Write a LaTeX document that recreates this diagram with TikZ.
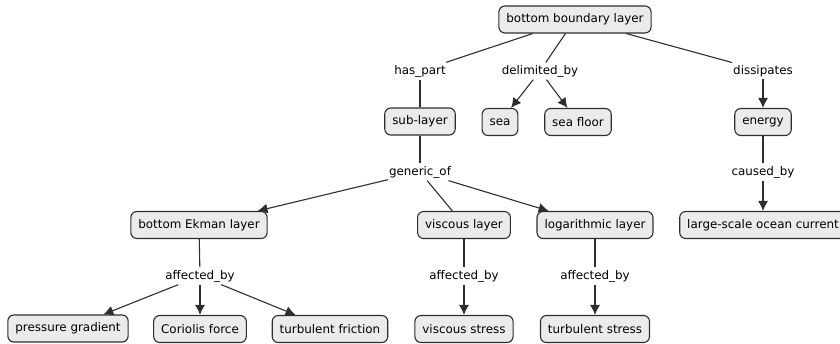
\documentclass[tikz,border=0pt]{standalone}
\usepackage{fontspec}
\setmainfont{DejaVu Sans}
\usepackage{tikz}
\usetikzlibrary{arrows.meta}
\usetikzlibrary{shapes,positioning,calc}
\definecolor{conceptfill}{HTML}{EBEBEB}
\definecolor{conceptline}{HTML}{2E2E2E}

\begin{document}
\begin{tikzpicture}[x=1pt, y=-1pt, >={Latex[length=10pt,width=10pt]},
		every node/.style={font=\fontsize{11.9}{14}\selectfont},
		concept/.style={draw=conceptline, fill=conceptfill, line width=1.1pt, rectangle, rounded corners=6, minimum height=27, inner xsep=7.5},
		linklabel/.style={fill=white, inner xsep=1, inner ysep=2.5},
		link/.style={line width=1.1pt, draw=conceptline}]
		\useasboundingbox (0,0) rectangle (840,343);
		\node[concept] (bbl) at (575,19.5) {bottom boundary layer};
		\node[linklabel] (haspart) at (420,71) {has\_part};
		\node[linklabel] (delim) at (540,71) {delimited\_by};
		\node[linklabel] (dissip) at (763,71) {dissipates};
		\node[concept] (sublayer) at (420,121.5) {sub-layer};
		\node[concept] (sea) at (500,122) {sea};
		\node[concept] (seafloor) at (578,122) {sea floor};
		\node[concept] (energy) at (763,122) {energy};
		\node[linklabel] (generic) at (420,172) {generic\_of};
		\node[linklabel] (caused) at (763,172) {caused\_by};
		\node[concept] (ekman) at (199,225) {bottom Ekman layer};
		\node[concept] (viscous) at (464,225) {viscous layer};
		\node[concept] (loglayer) at (595,225) {logarithmic layer};
		\node[concept] (current) at (763,225) {large-scale ocean current};
		\node[linklabel] (affekman) at (200,276) {affected\_by};
		\node[linklabel] (affvisc) at (464,276) {affected\_by};
		\node[linklabel] (afflog) at (595,276) {affected\_by};
		\node[concept] (pressure) at (68,328.5) {pressure gradient};
		\node[concept] (coriolis) at (200,329) {Coriolis force};
		\node[concept] (friction) at (330,329) {turbulent friction};
		\node[concept] (vstress) at (464,329) {viscous stress};
		\node[concept] (tstress) at (595,329) {turbulent stress};

		\draw[link] (bbl) -- (haspart);
		\draw[link] (bbl) -- (delim);
		\draw[link] (bbl) -- (dissip);
		\draw[link] (haspart) -- (sublayer);
		\draw[link,->] (delim) -- (sea);
		\draw[link,->] (delim) -- (seafloor);
		\draw[link,->] (dissip) -- (energy);
		\draw[link] (sublayer) -- (generic);
		\draw[link] (energy) -- (caused);
		\draw[link,->] (caused) -- (current);
		\draw[link,->] (generic) -- (ekman);
		\draw[link] (generic) -- (viscous);
		\draw[link,->] (generic) -- (loglayer);
		\draw[link] (ekman) -- (affekman);
		\draw[link] (viscous) -- (affvisc);
		\draw[link] (loglayer) -- (afflog);
		\draw[link,->] (affekman) -- (pressure);
		\draw[link,->] (affekman) -- (coriolis);
		\draw[link,->] (affekman) -- (friction);
		\draw[link,->] (affvisc) -- (vstress);
		\draw[link,->] (afflog) -- (tstress);
\end{tikzpicture}
\end{document}
